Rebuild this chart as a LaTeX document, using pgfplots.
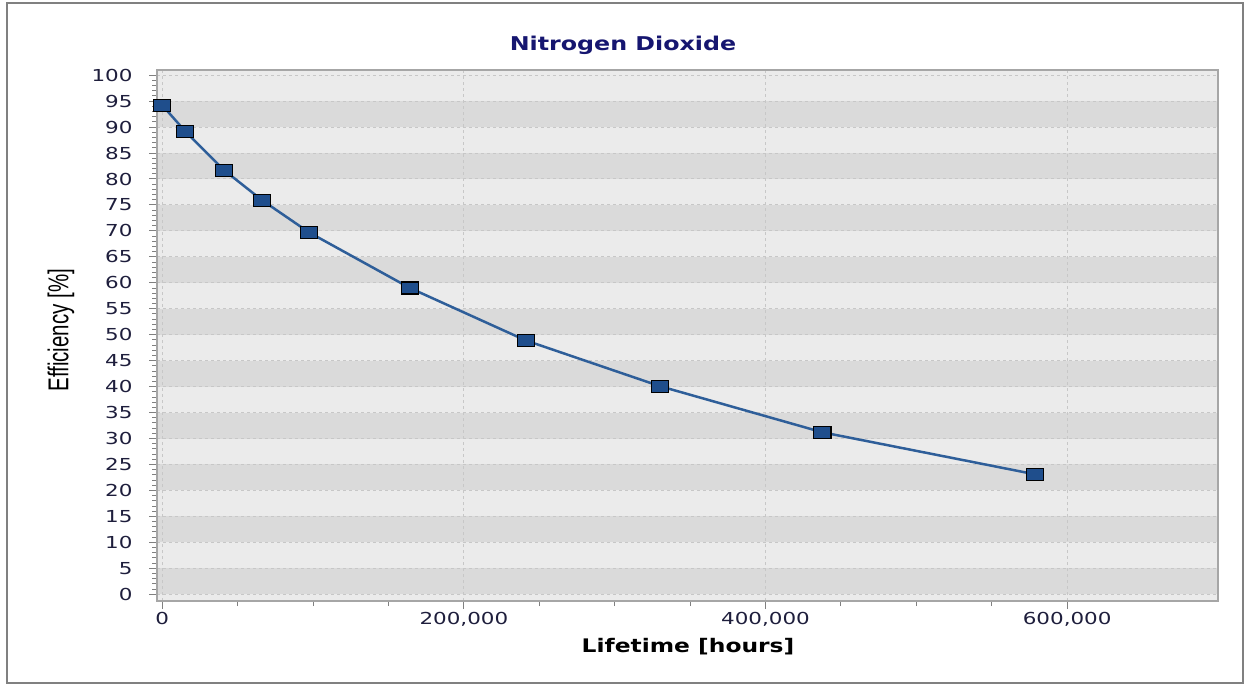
\documentclass[border=0pt]{standalone}
\usepackage{pgfplots}
\pgfplotsset{compat=1.18}
\usepackage{fontspec}
\setmainfont{DejaVu Sans}
\newfontfamily\tickfont{DejaVu Sans}[FakeStretch=1.3]
\newfontfamily\titlefont{DejaVu Sans}[FakeStretch=1.25]
\newfontfamily\labelfont{Liberation Sans}
\definecolor{bandlight}{RGB}{235,235,235}
\definecolor{banddark}{RGB}{218,218,218}
\definecolor{lineblue}{RGB}{46,94,153}
\definecolor{markblue}{RGB}{31,78,140}
\definecolor{titleblue}{RGB}{22,22,112}
\definecolor{tickcol}{RGB}{30,30,60}
\begin{document}
\begin{tikzpicture}
\path (0pt,0pt) rectangle (1250pt,686pt);
\draw[gray, line width=1.5pt] (7pt,3pt) rectangle (1243pt,683pt);
\node[font=\titlefont\bfseries\fontsize{19}{20}\selectfont, text=titleblue, anchor=center] at (623pt,641pt) {Nitrogen Dioxide};
\begin{axis}[
  set layers,
  at={(157pt,85pt)}, anchor=south west,
  scale only axis, width=1061pt, height=531pt,
  xmin=-3500, xmax=700000, ymin=-1.3, ymax=101,
  xtick={0,200000,400000,600000},
  xticklabels={0,{200,000},{400,000},{600,000}},
  scaled x ticks=false,
  minor x tick num=3,
  ytick={0,5,...,100}, minor y tick num=4,
  xtick pos=bottom, ytick pos=left,
  /pgf/number format/assume math mode=true,
  tick align=outside, major tick length=8pt, minor tick length=5pt,
  tick style={gray, line width=1pt},
  grid=major, major grid style={dashed, black!22, line width=1pt},
  axis line style={black!35, line width=2pt},
  axis background/.style={fill=bandlight},
  ticklabel style={font=\tickfont\fontsize{16.5}{18}\selectfont, text=tickcol},
  yticklabel style={xshift=-13pt},
  xlabel={Lifetime [hours]},
  xlabel style={font=\titlefont\bfseries\fontsize{18.7}{20}\selectfont, text=black,
    at={(axis description cs:0.5005,-0.085)}, anchor=center},
  ylabel={\scalebox{1}[1.4]{Efficiency [\%]}},
  ylabel style={font=\labelfont\fontsize{20.5}{23}\selectfont, text=black,
    at={(axis description cs:-0.0905,0.51)}, anchor=center},
]
\begin{pgfonlayer}{axis background}
\fill[banddark] (axis cs:-3500,0) rectangle (axis cs:700000,5);
\fill[banddark] (axis cs:-3500,10) rectangle (axis cs:700000,15);
\fill[banddark] (axis cs:-3500,20) rectangle (axis cs:700000,25);
\fill[banddark] (axis cs:-3500,30) rectangle (axis cs:700000,35);
\fill[banddark] (axis cs:-3500,40) rectangle (axis cs:700000,45);
\fill[banddark] (axis cs:-3500,50) rectangle (axis cs:700000,55);
\fill[banddark] (axis cs:-3500,60) rectangle (axis cs:700000,65);
\fill[banddark] (axis cs:-3500,70) rectangle (axis cs:700000,75);
\fill[banddark] (axis cs:-3500,80) rectangle (axis cs:700000,85);
\fill[banddark] (axis cs:-3500,90) rectangle (axis cs:700000,95);
\end{pgfonlayer}
\addplot[color=lineblue, line width=2.5pt, mark=square*, mark size=6pt,
  mark options={fill=markblue, draw=black, line width=1.2pt, xscale=1.42}]
  coordinates {
  (0,94.2) (15200,89.2) (41000,81.7) (66200,75.9) (97400,69.7)
  (164200,59.0) (241000,48.9) (329800,40.1) (437700,31.2) (578800,23.1)
  };
\end{axis}
\end{tikzpicture}
\end{document}
